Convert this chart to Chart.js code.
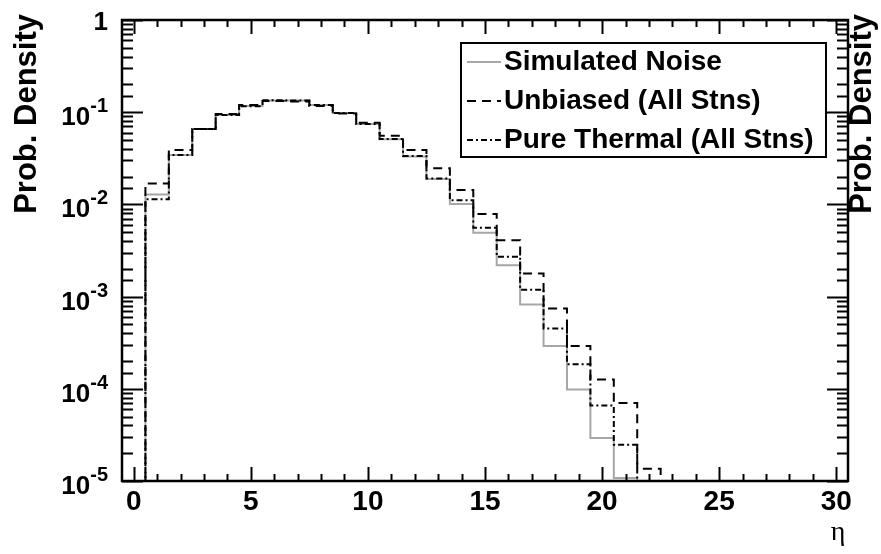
<!DOCTYPE html>
<html>
<head>
<meta charset="utf-8">
<script src="https://cdn.jsdelivr.net/npm/chart.js@4.4.0/dist/chart.umd.min.js"></script>
<style>
  html, body { margin: 0; padding: 0; background: #fff; }
  #wrap { width: 881px; height: 554px; }
</style>
</head>
<body>
<div id="wrap"><canvas id="chart" width="881" height="554"></canvas></div>
<script>
// --- DATA ---
// bin centres, bins are 1 wide
const binCenters = [1, 2, 3, 4, 5, 6, 7, 8, 9, 10, 11, 12, 13, 14, 15, 16, 17, 18, 19, 20, 21, 22];

const simulatedNoise = [0.0128, 0.0343, 0.0656, 0.093, 0.117, 0.134, 0.134, 0.120, 0.098, 0.0743,
  0.051, 0.0331, 0.0188, 0.0101, 0.00492, 0.00219, 0.00082, 0.000292, 0.000098, 0.0000293, 0.0000108, 0];

const unbiased = [0.0169, 0.0388, 0.0656, 0.0955, 0.120, 0.132, 0.131, 0.117, 0.097, 0.0768,
  0.0555, 0.0388, 0.0246, 0.0143, 0.00785, 0.00409, 0.00178, 0.000743, 0.000292, 0.000126, 0.000070, 0.0000136];

const pureThermal = [0.0114, 0.0343, 0.0656, 0.093, 0.116, 0.135, 0.134, 0.120, 0.098, 0.0743,
  0.0511, 0.0334, 0.0191, 0.0111, 0.00557, 0.0027, 0.00119, 0.000451, 0.000185, 0.000066, 0.0000248, 0];

const xTickLabels = ['0', '5', '10', '15', '20', '25', '30'];
const seriesLabels = ['Simulated Noise', 'Unbiased (All Stns)', 'Pure Thermal (All Stns)'];

const FONT = '"Liberation Sans", Arial, sans-serif';
const EMPTY = 1e-8; // empty bins sit below the log axis

// histogram -> step points at bin edges
function histPoints(values) {
    const pts = [{ x: binCenters[0] - 1.5, y: EMPTY }];
    values.forEach((v, i) => {
        pts.push({ x: binCenters[i] - 0.5, y: v > 0 ? v : EMPTY });
    });
    pts.push({ x: binCenters[binCenters.length - 1] + 0.5, y: EMPTY });
    return pts;
}

function lineDataset(label, values, color, dash, order) {
    return {
        label: label,
        data: histPoints(values),
        borderColor: color,
        borderWidth: 2,
        borderDash: dash,
        stepped: true,
        pointRadius: 0,
        fill: false,
        tension: 0,
        order: order
    };
}

// ROOT-like frame, inward ticks, log labels, titles and boxed legend
const rootStyle = {
    id: 'rootStyle',
    afterDraw(chart) {
        const ctx = chart.ctx;
        const xs = chart.scales.x, ys = chart.scales.y;
        const { left, right, top, bottom } = chart.chartArea;
        ctx.save();
        ctx.strokeStyle = '#000';
        ctx.lineWidth = 2;

        // x ticks (bottom + top)
        ctx.beginPath();
        for (let v = Math.ceil(xs.min); v <= Math.floor(xs.max); v++) {
            const px = Math.round(xs.getPixelForValue(v)) + 0.5;
            const len = v % 5 === 0 ? 14 : 7;
            ctx.moveTo(px, bottom); ctx.lineTo(px, bottom - len);
            ctx.moveTo(px, top); ctx.lineTo(px, top + len);
        }
        // y ticks (left + right)
        ys.ticks.forEach(t => {
            const e = Math.log10(t.value);
            const major = Math.abs(e - Math.round(e)) < 1e-6;
            const py = Math.round(ys.getPixelForValue(t.value)) + 0.5;
            const len = major ? 21 : 11;
            ctx.moveTo(left, py); ctx.lineTo(left + len, py);
            ctx.moveTo(right, py); ctx.lineTo(right - len, py);
        });
        ctx.stroke();

        // frame
        ctx.lineWidth = 2.5;
        ctx.strokeRect(left, top, right - left, bottom - top);

        // y tick labels 1, 10^-1 ...
        ctx.fillStyle = '#000';
        ctx.textBaseline = 'alphabetic';
        ys.ticks.forEach(t => {
            const e = Math.round(Math.log10(t.value));
            if (Math.abs(Math.log10(t.value) - e) > 1e-6) return;
            const py = ys.getPixelForValue(t.value);
            const xr = left - 14;
            if (e === 0) {
                ctx.font = 'bold 26px ' + FONT;
                ctx.textAlign = 'right';
                ctx.fillText('1', xr, py + 10);
            } else {
                ctx.font = 'bold 20px ' + FONT;
                const sup = String(e);
                const supW = ctx.measureText(sup).width;
                ctx.textAlign = 'right';
                ctx.fillText(sup, xr, py);
                ctx.font = 'bold 26px ' + FONT;
                ctx.fillText('10', xr - supW, py + 13);
            }
        });

        // axis titles
        ctx.font = 'bold 31px ' + FONT;
        ctx.textBaseline = 'middle';
        ctx.textAlign = 'right';
        [27, 862].forEach(cx => {
            ctx.save();
            ctx.translate(cx, 14);
            ctx.rotate(-Math.PI / 2);
            ctx.fillText('Prob. Density', 0, 0);
            ctx.restore();
        });
        ctx.font = '28px "Liberation Serif", "Times New Roman", serif';
        ctx.textAlign = 'center';
        ctx.fillText('\u03b7', 838, 533);

        // legend box
        const lx = 461, ly = 43, lw = 365, lh = 114;
        ctx.fillStyle = '#fff';
        ctx.fillRect(lx, ly, lw, lh);
        ctx.lineWidth = 2;
        ctx.strokeStyle = '#000';
        ctx.strokeRect(lx, ly, lw, lh);
        const rows = [62, 101, 140];
        chart.data.datasets.forEach((ds, i) => {
            const ry = rows[i];
            ctx.save();
            ctx.strokeStyle = ds.borderColor;
            ctx.lineWidth = ds.borderWidth;
            ctx.setLineDash(ds.borderDash);
            ctx.beginPath();
            ctx.moveTo(467, ry); ctx.lineTo(501, ry);
            ctx.stroke();
            ctx.restore();
            ctx.fillStyle = '#000';
            ctx.font = 'bold 28px ' + FONT;
            ctx.textAlign = 'left';
            ctx.textBaseline = 'middle';
            ctx.fillText(ds.label, 504, ry);
        });
        ctx.restore();
    }
};

const chart = new Chart(document.getElementById('chart'), {
    type: 'line',
    data: {
        datasets: [
            lineDataset(seriesLabels[0], simulatedNoise, '#a6a6a6', [], 3),
            lineDataset(seriesLabels[1], unbiased, '#000', [9, 6], 2),
            lineDataset(seriesLabels[2], pureThermal, '#000', [6, 3, 2, 3], 1)
        ]
    },
    options: {
        responsive: false,
        animation: false,
        layout: { padding: { left: 0, right: 33, top: 20, bottom: 0 } },
        plugins: {
            legend: { display: false },
            tooltip: { enabled: false }
        },
        scales: {
            x: {
                type: 'linear',
                min: -0.5,
                max: 30.5,
                afterFit: s => { s.height = 73; },
                grid: { display: false, drawTicks: false },
                border: { display: false },
                ticks: {
                    stepSize: 5,
                    includeBounds: false,
                    autoSkip: false,
                    maxRotation: 0,
                    padding: 4,
                    color: '#000',
                    font: { family: FONT, size: 28, weight: 'bold' },
                    callback: v => xTickLabels.includes(String(v)) ? String(v) : ''
                }
            },
            y: {
                type: 'logarithmic',
                min: 1e-5,
                max: 1,
                afterFit: s => { s.width = 122; },
                grid: { display: false, drawTicks: false },
                border: { display: false },
                ticks: { display: false }
            }
        }
    },
    plugins: [rootStyle]
});
</script>
</body>
</html>
